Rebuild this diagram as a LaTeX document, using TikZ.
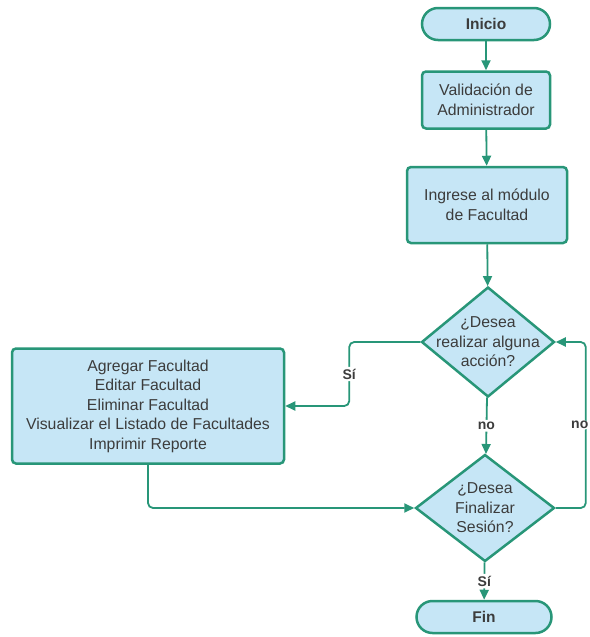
\documentclass[tikz,border=0pt]{standalone}
\usepackage{fontspec}
\setmainfont{Liberation Sans}
\usetikzlibrary{arrows.meta}
\usetikzlibrary{shapes.geometric}

\definecolor{borde}{RGB}{40,150,120}
\definecolor{relleno}{RGB}{198,230,246}
\definecolor{letra}{RGB}{60,60,60}

\begin{document}
\begin{tikzpicture}[x=1pt,y=-1pt,
    texto/.style={font=\fontsize{15.8}{19.5}\selectfont, text=letra, align=center},
    terminal/.style={draw=borde, fill=relleno, line width=2.5pt, rounded corners=16pt, minimum width=128pt, minimum height=32pt, texto, font=\fontsize{15.5}{19}\selectfont\bfseries},
    proceso/.style={draw=borde, fill=relleno, line width=2.5pt, rounded corners=4pt, texto},
    decision/.style={diamond, draw=borde, fill=relleno, line width=2.5pt, inner sep=0pt},
    flecha/.style={draw=borde, line width=1.8pt, rounded corners=5pt, -{Triangle[length=10pt,width=9pt]}},
    etiqueta/.style={fill=white, inner sep=2pt, font=\fontsize{14}{16}\selectfont\bfseries, text=letra}]

    % fix the page size
    \useasboundingbox (0,0) rectangle (589,637);

    % main column
    \node[terminal] (inicio) at (486,24) {Inicio};
    \node[proceso, minimum width=128pt, minimum height=57pt] (valida) at (486,100) {Validación de\\Administrador};
    \node[proceso, minimum width=160pt, minimum height=76pt] (modulo) at (487,205) {Ingrese al módulo\\de Facultad};
    \node[decision, minimum width=133pt, minimum height=110pt,
          label={[texto]center:{¿Desea\\realizar alguna\\acción?}}] (accion) at (488,342) {};
    \node[decision, minimum width=139pt, minimum height=107pt,
          label={[texto]center:{¿Desea\\Finalizar\\Sesión?}}] (salir) at (485,508) {};
    \node[terminal, minimum width=135pt] (fin) at (484,617) {Fin};

    % list of actions
    \node[proceso, minimum width=272pt, minimum height=115pt] (opciones) at (148,406) {Agregar Facultad\\Editar Facultad\\Eliminar Facultad\\Visualizar el Listado de Facultades\\Imprimir Reporte};

    % connectors
    \draw[flecha] (inicio) -- (valida);
    \draw[flecha] (valida) -- (modulo);
    \draw[flecha] (modulo) -- (accion);
    \draw[flecha] (accion.west) -- ++(-71,0) |- node[etiqueta, pos=0.25] {Sí} (opciones.east);
    \draw[flecha] (accion) -- node[etiqueta] {no} (salir);
    \draw[flecha] (opciones.south) |- (salir.west);
    \draw[flecha] (salir.east) -- ++(30,0) |- node[etiqueta, pos=0.25, xshift=-6pt, inner sep=1pt] {no} (accion.east);
    \draw[flecha] (salir) -- node[etiqueta] {Sí} (fin);

\end{tikzpicture}
\end{document}
